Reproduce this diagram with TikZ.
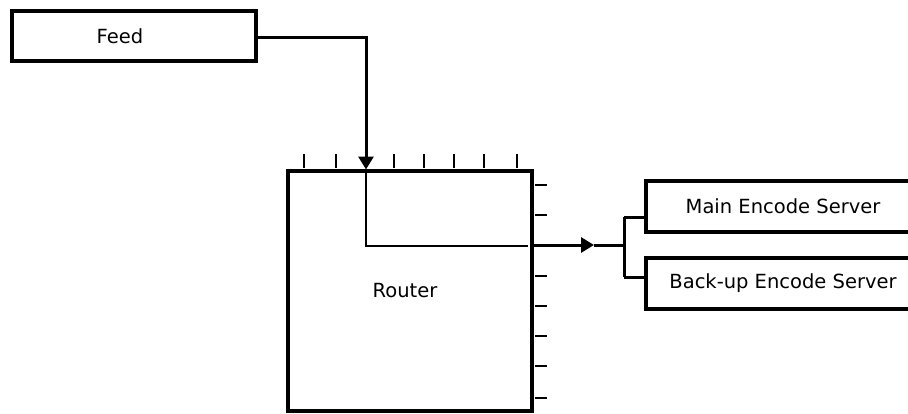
\documentclass[tikz,border=0pt]{standalone}
\usepackage{fontspec}
\setmainfont{DejaVu Sans}
\usetikzlibrary{arrows.meta}
\begin{document}
\begin{tikzpicture}[x=1pt,y=1pt,
  box/.style={draw=black,line width=3.4pt,fill=white,inner sep=0pt,
    font=\fontsize{19.5}{23}\selectfont},
  wire/.style={line width=3pt},
  thin/.style={line width=1.4pt},
  tick/.style={line width=1.6pt},
  tip/.style={-{Triangle[width=15pt,length=13pt]}}]
\useasboundingbox (0,0) rectangle (908,-413);
\clip (0,0) rectangle (908,-413);
\node[box,minimum width=244pt,minimum height=50pt] (feed) at (134,-36)
  {\hspace*{-28pt}Feed};
\node[box,minimum width=244pt,minimum height=240pt] (router) at (410,-291)
  {\hspace*{-10pt}\raisebox{-2pt}{Router}};
\node[box,minimum width=274pt,minimum height=51pt] (main) at (783,-206.5)
  {Main Encode Server};
\node[box,minimum width=274pt,minimum height=51pt] (backup) at (783,-283.5)
  {Back-up Encode Server};
% ticks on router top
\foreach \x in {304,336,366,394,424,454,484,517}
  \draw[tick] (router.north west -| \x,0) ++(0,1.5) -- ++(0,14);
% ticks on router right
\foreach \y in {185,215,245,276,306,336,366,398}
  \draw[tick] (router.north east |- 0,-\y) ++(1.5,0) -- ++(12,0);
% feed to router
\coordinate (fin) at (366,-169.5);
\draw[wire,tip] (feed.east |- 0,-37) -| (fin);
% inner route
\draw[thin] (366,-172) coordinate (ia) -- (366,-246) coordinate (ib) -- (528,-246) coordinate (ic);
% router output
\coordinate (rout) at (533,-245);
\coordinate (ah) at (594,-245);
\coordinate (jn) at (624,-245);
\draw[wire,tip] (rout) -- (ah);
\draw[wire] (ah) -- (jn);
\draw[wire] (jn |- 0,-217) -- (jn |- 0,-277);
\draw[wire] (jn |- 0,-217) -- (main.west |- 0,-217);
\draw[wire] (jn |- 0,-277) -- (backup.west |- 0,-277);
\end{tikzpicture}
\end{document}
